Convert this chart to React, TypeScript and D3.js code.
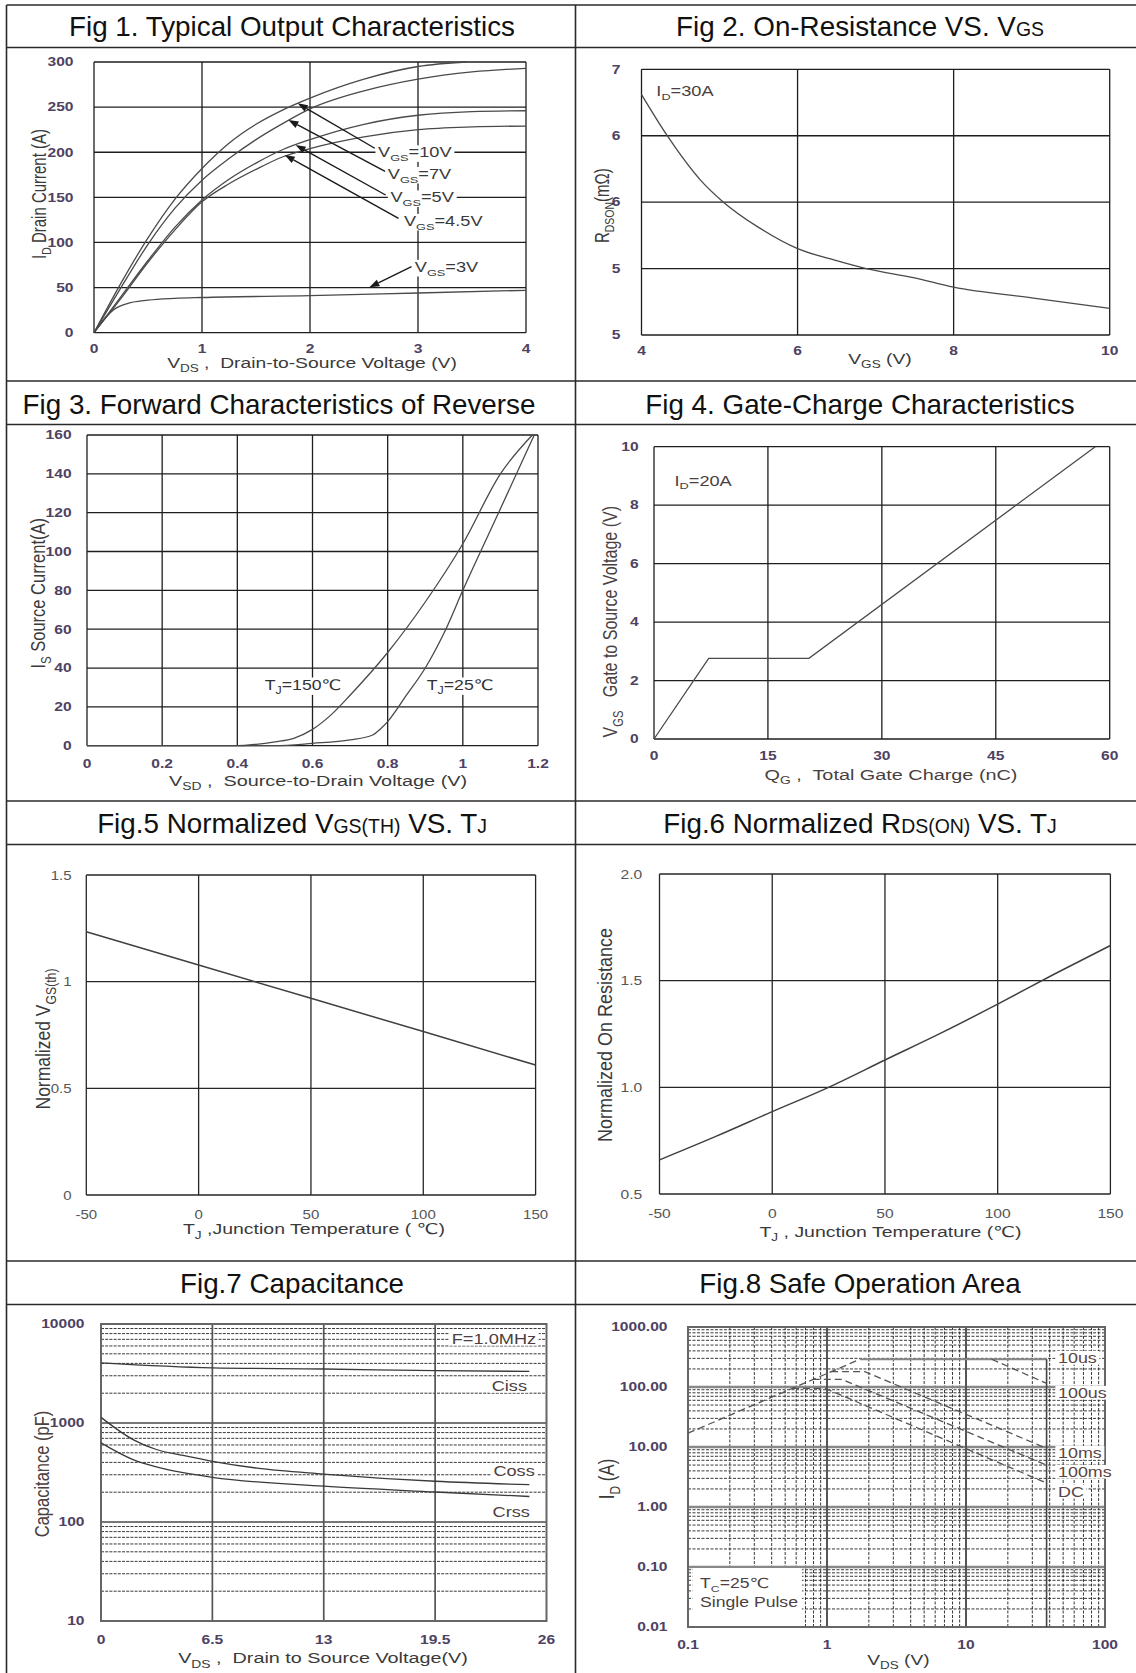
import * as d3 from 'd3';
import { useEffect, useRef } from 'react';

const W = 1136;
const H = 1673;
const FONT = "'Liberation Sans', Arial, 'DejaVu Sans', sans-serif";

type Part = string | { t: string; sub?: boolean; small?: boolean };

// ---- titles of the eight cells
const figTitles: Part[][] = [
  ['Fig 1. Typical Output Characteristics'],
  ['Fig 2. On-Resistance VS. V', { t: 'GS', small: true }],
  ['Fig 3. Forward Characteristics of Reverse'],
  ['Fig 4. Gate-Charge Characteristics'],
  ['Fig.5 Normalized V', { t: 'GS(TH)', small: true }, ' VS. T', { t: 'J', small: true }],
  ['Fig.6 Normalized R', { t: 'DS(ON)', small: true }, ' VS. T', { t: 'J', small: true }],
  ['Fig.7 Capacitance'],
  ['Fig.8 Safe Operation Area'],
];

// ---- Fig 1 output characteristics
const fig1XTicks = [0, 1, 2, 3, 4];
const fig1YTicks = [0, 50, 100, 150, 200, 250, 300];
const vgs10Vds = [0, 0.25, 0.5, 0.75, 1, 1.25, 1.5, 1.75, 2, 2.5, 3, 3.45];
const vgs10Id = [0, 55, 105, 148, 182, 210, 231, 247, 260, 281, 295, 300];
const fig1Vds = [0, 0.25, 0.5, 0.75, 1, 1.25, 1.5, 1.75, 2, 2.5, 3, 3.5, 4];
const vgs7Id = [0, 50, 98, 138, 169, 193, 214, 232, 248, 268, 281, 289, 293];
const vgs5Id = [0, 40, 80, 117, 147, 170, 188, 203, 214, 231, 241, 245, 246];
const vgs45Id = [0, 38, 78, 114, 145, 165, 181, 195, 204, 217, 225, 228, 229];
const vgs3Vds = [0, 0.1, 0.2, 0.3, 0.5, 0.75, 1, 2, 3, 4];
const vgs3Id = [0, 16, 27, 32, 36, 38, 39, 41, 44, 47];
const fig1Names = ['=10V', '=7V', '=5V', '=4.5V', '=3V'];

// ---- Fig 2 on-resistance vs VGS
const fig2XTicks = [4, 6, 8, 10];
const fig2YTicks = [5, 5.5, 6, 6.5, 7];
const fig2YLabels = ['5', '5', '6', '6', '7'];
const fig2Vgs = [4, 4.33, 4.75, 5.05, 5.5, 6, 6.5, 6.88, 7.5, 8, 9, 10];
const fig2Rds = [6.81, 6.5, 6.17, 6.0, 5.81, 5.65, 5.56, 5.5, 5.43, 5.36, 5.28, 5.2];

// ---- Fig 3 body diode
const fig3XTicks = [0, 0.2, 0.4, 0.6, 0.8, 1, 1.2];
const fig3YTicks = [0, 20, 40, 60, 80, 100, 120, 140, 160];
const tj150Vsd = [0, 0.4, 0.45, 0.5, 0.55, 0.6, 0.65, 0.7, 0.8, 0.9, 1.0, 1.1, 1.185];
const tj150Is = [0, 0, 0.7, 2, 3.8, 8.4, 16, 26, 48, 74, 104, 140, 160];
const tj25Vsd = [0, 0.5, 0.6, 0.7, 0.76, 0.78, 0.8, 0.85, 0.9, 0.95, 1.0, 1.1, 1.19];
const tj25Is = [0, 0, 1.2, 3, 5.5, 8.5, 12.4, 26, 40, 58, 80, 122, 160];

// ---- Fig 4 gate charge
const fig4XTicks = [0, 15, 30, 45, 60];
const fig4YTicks = [0, 2, 4, 6, 8, 10];
const fig4Qg = [0, 7.2, 20.4, 58.1];
const fig4Vgs = [0, 2.76, 2.76, 10];

// ---- Fig 5 / Fig 6 temperature
const tempTicks = [-50, 0, 50, 100, 150];
const fig5YTicks = [0, 0.5, 1, 1.5];
const fig5YLabels = ['0', '0.5', '1', '1.5'];
const fig5Tj = [-50, 0, 50, 100, 150];
const fig5Vth = [1.234, 1.078, 0.922, 0.766, 0.609];
const fig6YTicks = [0.5, 1, 1.5, 2];
const fig6YLabels = ['0.5', '1.0', '1.5', '2.0'];
const fig6Tj = [-50, -25, 0, 25, 50, 75, 100, 125, 150];
const fig6Rds = [0.66, 0.77, 0.886, 1.0, 1.128, 1.255, 1.39, 1.53, 1.665];

// ---- Fig 7 capacitance
const fig7XTicks = [0, 6.5, 13, 19.5, 26];
const fig7YTicks = [10, 100, 1000, 10000];
const cissVds = [0, 6.5, 13, 19.5, 25];
const cissPf = [4040, 3600, 3510, 3380, 3320];
const cossVds = [0, 1.87, 3.23, 4.79, 6.5, 9.1, 13, 19.5, 25];
const cossPf = [1140, 680, 540, 470, 410, 350, 305, 258, 238];
const crssVds = [0, 1.87, 3.23, 4.79, 6.5, 13, 19.5, 25];
const crssPf = [630, 427, 360, 315, 283, 230, 201, 181];

// ---- Fig 8 safe operating area
const fig8XTicks = [0.1, 1, 10, 100];
const fig8XLabels = ['0.1', '1', '10', '100'];
const fig8YTicks = [0.01, 0.1, 1, 10, 100, 1000];
const fig8YLabels = ['0.01', '0.10', '1.00', '10.00', '100.00', '1000.00'];
const soaLimitV = [0.1, 1.73];
const soaLimitI = [17, 290];
const soa10usV = [1.73, 38];
const soa10usI = [290, 290];
const soa100usV = [15.3, 38];
const soa100usI = [290, 115];
const soa10msV = [1.07, 1.87, 38];
const soa10msI = [180, 180, 9.5];
const soa100msV = [0.79, 1.28, 38];
const soa100msI = [134, 134, 5];
const soaDcV = [0.56, 0.97, 38];
const soaDcI = [95, 95, 2.5];
const soaBvV = [38, 38];
const soaBvI = [290, 0.01];
const soaNames = ['10us', '100us', '10ms', '100ms', 'DC'];

interface TextOpt {
  size: number;
  sx?: number;
  sy?: number;
  rotate?: number;
  anchor?: string;
  weight?: string | number;
  fill?: string;
  bg?: boolean;
}

function addText(parent: any, x: number, y: number, parts: Part[] | string, o: TextOpt) {
  const tf = `translate(${x},${y})` + (o.rotate ? ` rotate(${o.rotate})` : '') + ` scale(${o.sx ?? 1},${o.sy ?? 1})`;
  const g = parent.append('g').attr('transform', tf);
  const bg = o.bg ? g.append('rect').attr('fill', '#fff') : null;
  const t = g.append('text')
    .attr('text-anchor', o.anchor ?? 'start')
    .attr('font-family', FONT)
    .attr('font-size', o.size)
    .attr('font-weight', o.weight ?? 'normal')
    .attr('fill', o.fill ?? '#333')
    .style('white-space', 'pre');
  const list = typeof parts === 'string' ? [parts] : parts;
  let shift = 0;
  for (const p of list) {
    const part = typeof p === 'string' ? { t: p } : p;
    const span = t.append('tspan').text(part.t);
    const target = part.sub ? o.size * 0.28 : 0;
    if (target !== shift) {
      span.attr('dy', target - shift);
      shift = target;
    }
    if (part.sub || part.small) span.attr('font-size', o.size * 0.7);
  }
  if (bg) {
    const b = t.node().getBBox();
    bg.attr('x', b.x - 2).attr('y', b.y + 1).attr('width', b.width + 4).attr('height', b.height - 2);
  }
  return g;
}

const TICK: TextOpt = { size: 12, sx: 1.3, weight: 'bold', fill: '#4e4263' };
const TICK_LIGHT: TextOpt = { size: 12.5, sx: 1.2, fill: '#555' };

function grid(g: any, box: any, xs: number[], ys: number[], x: any, y: any, stroke: string, width: number) {
  g.append('g').selectAll('line').data(xs).join('line')
    .attr('x1', (d: number) => x(d)).attr('x2', (d: number) => x(d))
    .attr('y1', box.t).attr('y2', box.b)
    .attr('stroke', stroke).attr('stroke-width', width);
  g.append('g').selectAll('line').data(ys).join('line')
    .attr('x1', box.l).attr('x2', box.r)
    .attr('y1', (d: number) => y(d)).attr('y2', (d: number) => y(d))
    .attr('stroke', stroke).attr('stroke-width', width);
}

function tickLabels(g: any, x: any, y: any, xs: number[], xl: string[], ys: number[], yl: string[], yRight: number, xBase: number, st: TextOpt) {
  ys.forEach((v, i) => addText(g, yRight, y(v) + st.size * 0.36, yl[i], { ...st, anchor: 'end' }));
  xs.forEach((v, i) => addText(g, x(v), xBase, xl[i], { ...st, anchor: 'middle' }));
}

function drawCurves(g: any, x: any, y: any, series: number[][][], curve: any, stroke: string, width: number, dash?: string) {
  const line = d3.line<[number, number]>().x(d => x(d[0])).y(d => y(d[1])).curve(curve);
  g.append('g').selectAll('path').data(series.map(([xs, ys]) => d3.zip(xs, ys))).join('path')
    .attr('d', line as any)
    .attr('fill', 'none')
    .attr('stroke', stroke)
    .attr('stroke-width', width)
    .attr('stroke-dasharray', dash ?? null);
}

function arrow(g: any, x1: number, y1: number, x2: number, y2: number) {
  const a = Math.atan2(y2 - y1, x2 - x1);
  const L = 10, w = 3.6;
  const bx = x2 - L * Math.cos(a), by = y2 - L * Math.sin(a);
  g.append('line').attr('x1', x1).attr('y1', y1).attr('x2', bx).attr('y2', by)
    .attr('stroke', '#1a1a1a').attr('stroke-width', 1.4);
  const pts = [
    [x2, y2],
    [bx + w * Math.sin(a), by - w * Math.cos(a)],
    [bx - w * Math.sin(a), by + w * Math.cos(a)],
  ];
  g.append('polygon').attr('points', pts.map(p => p.join(',')).join(' ')).attr('fill', '#1a1a1a');
}

function drawTable(svg: any) {
  const rows = [5, 47.5, 381, 424.5, 801, 844.5, 1261, 1304.5];
  rows.forEach(v => svg.append('line').attr('x1', 6.5).attr('x2', W).attr('y1', v).attr('y2', v)
    .attr('stroke', '#2a2a2a').attr('stroke-width', 1.6));
  [6.5, 575.5].forEach(v => svg.append('line').attr('x1', v).attr('x2', v).attr('y1', 5).attr('y2', H)
    .attr('stroke', '#2a2a2a').attr('stroke-width', 1.6));
  const cx = [292, 860, 279, 860, 292, 860, 292, 860];
  const base = [36, 36, 413.5, 413.5, 832.5, 832.5, 1292.5, 1292.5];
  figTitles.forEach((parts, i) => addText(svg, cx[i], base[i], parts, { size: 27.8, anchor: 'middle', fill: '#111' }));
}

function drawFig1(svg: any) {
  const box = { l: 94, r: 526, t: 62, b: 332.7 };
  const x = d3.scaleLinear().domain([0, 4]).range([box.l, box.r]);
  const y = d3.scaleLinear().domain([0, 300]).range([box.b, box.t]);
  const g = svg.append('g');
  grid(g, box, fig1XTicks, fig1YTicks, x, y, '#1e1e1e', 1.3);
  drawCurves(g, x, y, [[vgs10Vds, vgs10Id], [fig1Vds, vgs7Id], [fig1Vds, vgs5Id], [fig1Vds, vgs45Id], [vgs3Vds, vgs3Id]],
    d3.curveMonotoneX, '#4a4a4a', 1.3);
  tickLabels(g, x, y, fig1XTicks, fig1XTicks.map(String), fig1YTicks, fig1YTicks.map(String), 73.5, 352.5, TICK);
  // callouts: label anchor (left, centre) and arrow tail -> tip, in data units
  const labelAt = [[2.63, 200], [2.72, 176], [2.745, 150], [2.87, 124], [2.97, 73]];
  const tails = [[2.6, 204.4], [2.7, 178.4], [2.7, 152.6], [2.82, 126.8], [2.94, 73.1]];
  const tips = [[1.886, 254.2], [1.8, 235.7], [1.867, 208], [1.766, 197], [2.55, 50.3]];
  fig1Names.forEach((_, i) => arrow(g, x(tails[i][0]), y(tails[i][1]), x(tips[i][0]), y(tips[i][1])));
  fig1Names.forEach((n, i) => addText(g, x(labelAt[i][0]), y(labelAt[i][1]) + 5, ['V', { t: 'GS', sub: true }, n],
    { size: 14, sx: 1.3, fill: '#3a3a3a', bg: true }));
  addText(g, 312, 368, ['V', { t: 'DS', sub: true }, ' ,  Drain-to-Source Voltage (V)'], { size: 14.5, sx: 1.33, anchor: 'middle', fill: '#3a3a3a' });
  addText(g, 46, 194, ['I', { t: 'D', sub: true }, ' Drain Current (A)'], { size: 15, sy: 1.3, rotate: -90, anchor: 'middle', fill: '#3a3a3a' });
}

function drawFig2(svg: any) {
  const box = { l: 641.5, r: 1109.7, t: 69.3, b: 335 };
  const x = d3.scaleLinear().domain([4, 10]).range([box.l, box.r]);
  const y = d3.scaleLinear().domain([5, 7]).range([box.b, box.t]);
  const g = svg.append('g');
  grid(g, box, fig2XTicks, fig2YTicks, x, y, '#1e1e1e', 1.3);
  drawCurves(g, x, y, [[fig2Vgs, fig2Rds]], d3.curveMonotoneX, '#4a4a4a', 1.3);
  tickLabels(g, x, y, fig2XTicks, fig2XTicks.map(String), fig2YTicks, fig2YLabels, 620.5, 354.5, TICK);
  addText(g, x(4.19), y(6.8), ['I', { t: 'D', sub: true }, '=30A'], { size: 14, sx: 1.3, fill: '#4a3e3e' });
  addText(g, 880, 364, ['V', { t: 'GS', sub: true }, ' (V)'], { size: 15, sx: 1.29, anchor: 'middle', fill: '#3a3a3a' });
  addText(g, 609, 205.7, ['R', { t: 'DSON', sub: true }, '(mΩ)'], { size: 15, sy: 1.3, rotate: -90, anchor: 'middle', fill: '#3a3a3a' });
}

function drawFig3(svg: any) {
  const box = { l: 87, r: 538, t: 435, b: 745.7 };
  const x = d3.scaleLinear().domain([0, 1.2]).range([box.l, box.r]);
  const y = d3.scaleLinear().domain([0, 160]).range([box.b, box.t]);
  const g = svg.append('g');
  grid(g, box, fig3XTicks, fig3YTicks, x, y, '#1e1e1e', 1.3);
  drawCurves(g, x, y, [[tj150Vsd, tj150Is], [tj25Vsd, tj25Is]], d3.curveMonotoneX, '#4a4a4a', 1.3);
  tickLabels(g, x, y, fig3XTicks, fig3XTicks.map(String), fig3YTicks, fig3YTicks.map(String), 71.6, 767.5, TICK);
  addText(g, x(0.575), y(28.7), ['T', { t: 'J', sub: true }, '=150℃'], { size: 14.5, sx: 1.22, anchor: 'middle', fill: '#333', bg: true });
  addText(g, x(0.993), y(28.7), ['T', { t: 'J', sub: true }, '=25℃'], { size: 14.5, sx: 1.22, anchor: 'middle', fill: '#333', bg: true });
  addText(g, 318, 785.7, ['V', { t: 'SD', sub: true }, ' ,  Source-to-Drain Voltage (V)'], { size: 15.5, sx: 1.28, anchor: 'middle', fill: '#3a3a3a' });
  addText(g, 45, 593.3, ['I', { t: 'S', sub: true }, ' Source Current(A)'], { size: 16.5, sy: 1.25, rotate: -90, anchor: 'middle', fill: '#3a3a3a' });
}

function drawFig4(svg: any) {
  const box = { l: 654, r: 1109.7, t: 446.7, b: 739 };
  const x = d3.scaleLinear().domain([0, 60]).range([box.l, box.r]);
  const y = d3.scaleLinear().domain([0, 10]).range([box.b, box.t]);
  const g = svg.append('g');
  grid(g, box, fig4XTicks, fig4YTicks, x, y, '#1e1e1e', 1.3);
  drawCurves(g, x, y, [[fig4Qg, fig4Vgs]], d3.curveLinear, '#4a4a4a', 1.3);
  tickLabels(g, x, y, fig4XTicks, fig4XTicks.map(String), fig4YTicks, fig4YTicks.map(String), 638.6, 760, TICK);
  addText(g, x(2.7), y(8.67), ['I', { t: 'D', sub: true }, '=20A'], { size: 14, sx: 1.3, fill: '#4a3e3e' });
  addText(g, 891, 780, ['Q', { t: 'G', sub: true }, ' ,  Total Gate Charge (nC)'], { size: 15.5, sx: 1.28, anchor: 'middle', fill: '#4a4040' });
  addText(g, 617, 621.7, ['V', { t: 'GS', sub: true }, '   Gate to Source Voltage (V)'], { size: 16, sy: 1.25, rotate: -90, anchor: 'middle', fill: '#4a4040' });
}

function drawFig5(svg: any) {
  const box = { l: 86.3, r: 535.6, t: 875, b: 1195 };
  const x = d3.scaleLinear().domain([-50, 150]).range([box.l, box.r]);
  const y = d3.scaleLinear().domain([0, 1.5]).range([box.b, box.t]);
  const g = svg.append('g');
  grid(g, box, tempTicks, fig5YTicks, x, y, '#262626', 1.3);
  drawCurves(g, x, y, [[fig5Tj, fig5Vth]], d3.curveLinear, '#404040', 1.5);
  tickLabels(g, x, y, tempTicks, tempTicks.map(String), fig5YTicks, fig5YLabels, 71.6, 1219, TICK_LIGHT);
  addText(g, 314, 1234.3, ['T', { t: 'J', sub: true }, ' ,Junction Temperature ( ℃)'], { size: 15, sx: 1.3, anchor: 'middle', fill: '#3a3a3a' });
  addText(g, 50, 1039, ['Normalized V', { t: 'GS(th)', sub: true }], { size: 17.5, sy: 1.2, rotate: -90, anchor: 'middle', fill: '#3a3a3a' });
}

function drawFig6(svg: any) {
  const box = { l: 659.5, r: 1110.4, t: 874, b: 1194 };
  const x = d3.scaleLinear().domain([-50, 150]).range([box.l, box.r]);
  const y = d3.scaleLinear().domain([0.5, 2]).range([box.b, box.t]);
  const g = svg.append('g');
  grid(g, box, tempTicks, fig6YTicks, x, y, '#262626', 1.3);
  drawCurves(g, x, y, [[fig6Tj, fig6Rds]], d3.curveMonotoneX, '#404040', 1.5);
  tickLabels(g, x, y, tempTicks, tempTicks.map(String), fig6YTicks, fig6YLabels, 642.2, 1218, { ...TICK_LIGHT, size: 13 });
  addText(g, 890.5, 1236.7, ['T', { t: 'J', sub: true }, ' , Junction Temperature (℃)'], { size: 15, sx: 1.3, anchor: 'middle', fill: '#3a3a3a' });
  addText(g, 612, 1035, 'Normalized On Resistance', { size: 18, sy: 1.15, rotate: -90, anchor: 'middle', fill: '#3a3a3a' });
}

function isDecade(v: number) {
  const l = Math.log10(v);
  return Math.abs(l - Math.round(l)) < 1e-6;
}

function drawFig7(svg: any) {
  const box = { l: 101, r: 546.5, t: 1324, b: 1621 };
  const x = d3.scaleLinear().domain([0, 26]).range([box.l, box.r]);
  const y = d3.scaleLog().domain([10, 10000]).range([box.b, box.t]);
  const g = svg.append('g');
  const minor = y.ticks().filter(v => !isDecade(v));
  g.append('g').selectAll('line').data(minor).join('line')
    .attr('x1', box.l).attr('x2', box.r).attr('y1', d => y(d)).attr('y2', d => y(d))
    .attr('stroke', '#222').attr('stroke-width', 0.9).attr('stroke-dasharray', '3,1.2');
  g.append('g').selectAll('line').data(fig7YTicks.slice(1, -1)).join('line')
    .attr('x1', box.l).attr('x2', box.r).attr('y1', d => y(d)).attr('y2', d => y(d))
    .attr('stroke', '#777').attr('stroke-width', 2);
  g.append('g').selectAll('line').data(fig7XTicks.slice(1, -1)).join('line')
    .attr('x1', d => x(d)).attr('x2', d => x(d)).attr('y1', box.t).attr('y2', box.b)
    .attr('stroke', '#555').attr('stroke-width', 1.7);
  g.append('rect').attr('x', box.l).attr('y', box.t).attr('width', box.r - box.l).attr('height', box.b - box.t)
    .attr('fill', 'none').attr('stroke', '#666').attr('stroke-width', 2);
  drawCurves(g, x, y, [[cissVds, cissPf], [cossVds, cossPf], [crssVds, crssPf]], d3.curveMonotoneX, '#3a3a3a', 1.3);
  tickLabels(g, x, y, fig7XTicks, fig7XTicks.map(String), fig7YTicks, fig7YTicks.map(String), 84.5, 1643.5, TICK);
  const lab: TextOpt = { size: 14, sx: 1.3, fill: '#4d3f3f', bg: true };
  addText(g, x(20.47), y(6280), 'F=1.0MHz', lab);
  addText(g, x(22.8), y(2104), 'Ciss', lab);
  addText(g, x(22.9), y(292), 'Coss', lab);
  addText(g, x(22.85), y(112), 'Crss', lab);
  addText(g, 323, 1663.3, ['V', { t: 'DS', sub: true }, ' ,  Drain to Source Voltage(V)'], { size: 15, sx: 1.32, anchor: 'middle', fill: '#3a3a3a' });
  addText(g, 49, 1474, 'Capacitance (pF)', { size: 16.5, sy: 1.25, rotate: -90, anchor: 'middle', fill: '#4a4040' });
}

function drawFig8(svg: any) {
  const box = { l: 688, r: 1105, t: 1327, b: 1627 };
  const x = d3.scaleLog().domain([0.1, 100]).range([box.l, box.r]);
  const y = d3.scaleLog().domain([0.01, 1000]).range([box.b, box.t]);
  const g = svg.append('g');
  const minorY = y.ticks().filter(v => !isDecade(v));
  const minorX = x.ticks().filter(v => !isDecade(v));
  g.append('g').selectAll('line').data(minorY).join('line')
    .attr('x1', box.l).attr('x2', box.r).attr('y1', d => y(d)).attr('y2', d => y(d))
    .attr('stroke', '#222').attr('stroke-width', 0.9).attr('stroke-dasharray', '3,1.5');
  g.append('g').selectAll('line').data(minorX).join('line')
    .attr('x1', d => x(d)).attr('x2', d => x(d)).attr('y1', box.t).attr('y2', box.b)
    .attr('stroke', '#222').attr('stroke-width', 0.9).attr('stroke-dasharray', '3,1.5');
  g.append('g').selectAll('line').data(fig8YTicks.slice(1, -1)).join('line')
    .attr('x1', box.l).attr('x2', box.r).attr('y1', d => y(d)).attr('y2', d => y(d))
    .attr('stroke', '#888').attr('stroke-width', 2.6);
  g.append('g').selectAll('line').data(fig8XTicks.slice(1, -1)).join('line')
    .attr('x1', d => x(d)).attr('x2', d => x(d)).attr('y1', box.t).attr('y2', box.b)
    .attr('stroke', '#555').attr('stroke-width', 2);
  g.append('rect').attr('x', box.l).attr('y', box.t).attr('width', box.r - box.l).attr('height', box.b - box.t)
    .attr('fill', 'none').attr('stroke', '#666').attr('stroke-width', 2);
  drawCurves(g, x, y, [[soa10usV, soa10usI]], d3.curveLinear, '#888', 1.8);
  drawCurves(g, x, y, [[soaBvV, soaBvI]], d3.curveLinear, '#444', 1.6);
  drawCurves(g, x, y, [[soaLimitV, soaLimitI], [soa100usV, soa100usI], [soa10msV, soa10msI], [soa100msV, soa100msI], [soaDcV, soaDcI]],
    d3.curveLinear, '#555', 1.3, '7,4');
  tickLabels(g, x, y, fig8XTicks, fig8XLabels, fig8YTicks, fig8YLabels, 667.5, 1649, TICK);
  const labY = [251, 65.6, 6.56, 3.16, 1.47];
  soaNames.forEach((n, i) => addText(g, x(45.9), y(labY[i]), n, { size: 14, sx: 1.28, fill: '#5a4444', bg: true }));
  g.append('rect').attr('x', x(0.108)).attr('y', y(0.1) + 1)
    .attr('width', x(0.66) - x(0.108)).attr('height', y(0.01) - y(0.1) - 2).attr('fill', '#fff');
  addText(g, x(0.122), y(0.0447), ['T', { t: 'C', sub: true }, '=25℃'], { size: 14, sx: 1.26, fill: '#4d3f3f' });
  addText(g, x(0.122), y(0.0215), 'Single Pulse', { size: 14, sx: 1.26, fill: '#4d3f3f' });
  addText(g, 898.5, 1665, ['V', { t: 'DS', sub: true }, ' (V)'], { size: 15, sx: 1.28, anchor: 'middle', fill: '#3a3a3a' });
  addText(g, 614, 1479, ['I', { t: 'D', sub: true }, ' (A)'], { size: 17, sy: 1.25, rotate: -90, anchor: 'middle', fill: '#3a3a3a' });
}

export default function App() {
  const ref = useRef<SVGSVGElement | null>(null);

  useEffect(() => {
    const svg = d3.select(ref.current!);
    svg.selectAll('*').remove();
    svg.append('rect').attr('width', W).attr('height', H).attr('fill', '#fff');
    drawTable(svg);
    drawFig1(svg);
    drawFig2(svg);
    drawFig3(svg);
    drawFig4(svg);
    drawFig5(svg);
    drawFig6(svg);
    drawFig7(svg);
    drawFig8(svg);
  }, []);

  return <svg ref={ref} width={W} height={H} style={{ position: 'absolute', left: 0, top: 0, display: 'block' }} />;
}
